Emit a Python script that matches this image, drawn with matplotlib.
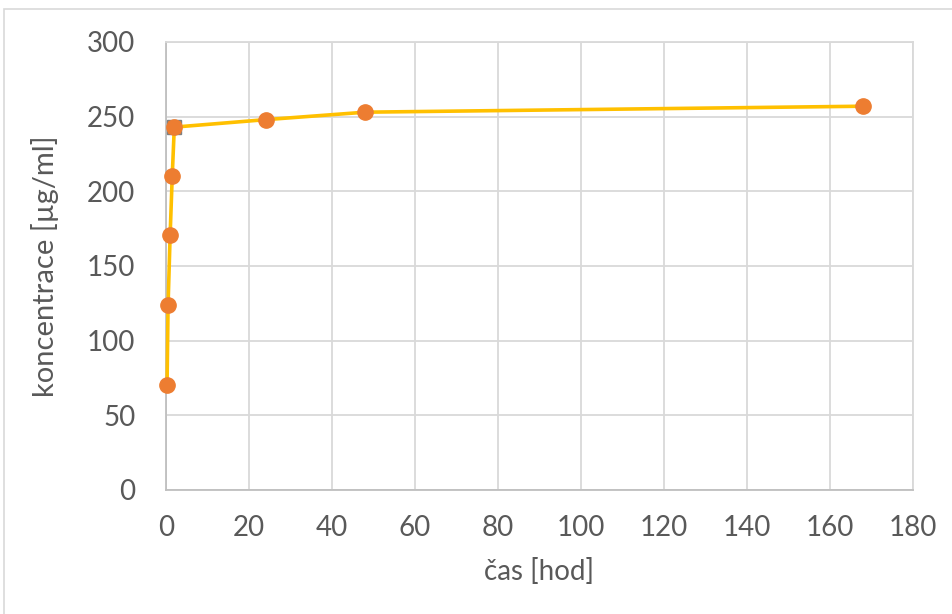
import matplotlib.pyplot as plt
from matplotlib.patches import Rectangle

# release of the drug over time
time_h = [0.25, 0.5, 1, 1.5, 2, 24, 48, 168]
conc = [70, 124, 171, 210, 243, 248, 253, 257]

x_ticks = list(range(0, 181, 20))
y_ticks = list(range(0, 301, 50))

text_color = "#595959"
grid_color = "#D9D9D9"

plt.rcParams['font.family'] = ['Lato', 'DejaVu Sans']

fig = plt.figure(figsize=(9.52, 6.14), dpi=100)
ax = fig.add_axes([166 / 952, 1 - 490 / 614, (913 - 166) / 952, (490 - 42) / 614])

# chart area border
fig.patches.append(Rectangle((4 / 952, -0.01), 1.0, 1 - 9 / 614 + 0.01,
                             transform=fig.transFigure, fill=False,
                             edgecolor=grid_color, linewidth=1.2))

# square marker sitting under the 2 h point
ax.plot(time_h[4], conc[4], marker='s', markersize=9.5, color="#ED7D31",
        markeredgecolor="#7F7F7F", markeredgewidth=1.0, zorder=3)
ax.plot(time_h, conc, color="#FFC000", linewidth=2.6, marker='o',
        markersize=11, markerfacecolor="#ED7D31", markeredgecolor="#ED7D31",
        zorder=4, clip_on=False)

ax.set_xlim(0, 180)
ax.set_ylim(0, 300)
ax.set_xticks(x_ticks)
ax.set_yticks(y_ticks)
ax.grid(True, color=grid_color, linewidth=1.3)
ax.set_axisbelow(True)
for side in ['top', 'right']:
    ax.spines[side].set_color(grid_color)
    ax.spines[side].set_linewidth(1.3)
for side in ['left', 'bottom']:
    ax.spines[side].set_color("#BFBFBF")
    ax.spines[side].set_linewidth(1.3)

ax.tick_params(length=0, labelsize=20, colors=text_color)
ax.tick_params(axis='y', pad=22)
ax.tick_params(axis='x', pad=18)
ax.set_xlabel("čas [hod]", fontsize=20, color=text_color, labelpad=12)
ax.set_ylabel("koncentrace [µg/ml]", fontsize=21, color=text_color, labelpad=20)

fig.savefig("out.png", dpi=100)
